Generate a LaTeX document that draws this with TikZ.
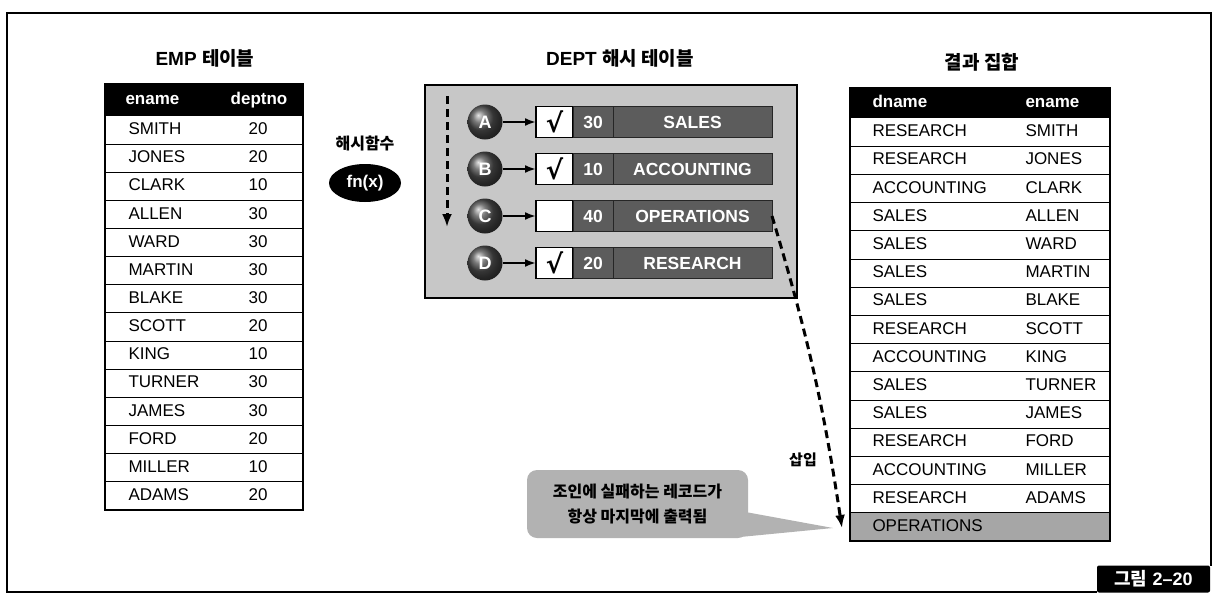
\documentclass[tikz,border=0pt]{standalone}
\usepackage{fontspec}
\setmainfont{Liberation Sans}
\newfontfamily\kr{Noto Sans CJK KR}
\newfontfamily\symfont{DejaVu Sans}
\usetikzlibrary{positioning,shapes.geometric,arrows.meta}
\tikzset{
  cell/.style={font=\fontsize{17}{20}\selectfont, inner sep=0pt, text height=12.5pt, text depth=3.5pt},
  head/.style={cell, font=\fontsize{17}{20}\selectfont\bfseries, text=white},
  title/.style={font=\fontsize{19}{22}\selectfont\bfseries, inner sep=0pt},
  ball/.style={circle, minimum size=35pt, inner sep=0pt, shading=ball, ball color=black!70,
    text=white, font=\fontsize{18}{20}\selectfont\bfseries},
  chkbox/.style={draw, line width=1.4pt, fill=white, minimum width=37pt, minimum height=31pt,
    inner sep=0pt, outer sep=0pt, font=\symfont\fontsize{26}{26}\selectfont\bfseries},
  numbox/.style={draw=black!85, line width=1pt, fill=black!64, minimum width=40pt, minimum height=31pt,
    inner sep=0pt, outer sep=0pt, text=white, font=\fontsize{17.5}{20}\selectfont\bfseries},
  namebox/.style={numbox, minimum width=159pt},
  dasharrow/.style={line width=3pt, dash pattern=on 8pt off 5pt, -{Latex[length=13pt,width=10pt]}},
  ptr/.style={line width=2.2pt, -{Latex[length=11pt,width=8pt]}}
}
\begin{document}
\begin{tikzpicture}[x=1pt, y=-1pt, line width=1pt]
\useasboundingbox (0,0) rectangle (1218,608);
% frame
\draw[line width=1.4pt] (1097,592) -- (7,592) -- (7,13) -- (1211,13) -- (1211,566);
\node[fill=black, rounded corners=2pt, minimum width=113pt, minimum height=27pt, inner sep=0pt,
  text=white, font=\fontsize{18}{20}\selectfont\bfseries](fig) at (1153.5,579) {{\kr 그림} 2–20};

% EMP table
\node[title](t1) at (205,58) {EMP {\kr 테이블}};
\fill[black] (105,84) rectangle (303,116);
\foreach \i in {1,...,13} \draw (105,116+28.14*\i) -- (303,116+28.14*\i);
\draw[line width=2.4pt] (105,84) rectangle (303,510);
\node[head, anchor=west](eh1) at (125,100) {ename};
\node[head](eh2) at (259,100) {deptno};
\node[cell, anchor=west](e1) at (128,130.1) {SMITH};
\node[cell, anchor=west](e2) at (128,158.2) {JONES};
\node[cell, anchor=west](e3) at (128,186.4) {CLARK};
\node[cell, anchor=west](e4) at (128,214.5) {ALLEN};
\node[cell, anchor=west](e5) at (128,242.6) {WARD};
\node[cell, anchor=west](e6) at (128,270.8) {MARTIN};
\node[cell, anchor=west](e7) at (128,298.9) {BLAKE};
\node[cell, anchor=west](e8) at (128,327.1) {SCOTT};
\node[cell, anchor=west](e9) at (128,355.2) {KING};
\node[cell, anchor=west](e10) at (128,383.3) {TURNER};
\node[cell, anchor=west](e11) at (128,411.5) {JAMES};
\node[cell, anchor=west](e12) at (128,439.6) {FORD};
\node[cell, anchor=west](e13) at (128,467.8) {MILLER};
\node[cell, anchor=west](e14) at (128,495.9) {ADAMS};
\node[cell](n1) at (258,130.1) {20};
\node[cell](n2) at (258,158.2) {20};
\node[cell](n3) at (258,186.4) {10};
\node[cell](n4) at (258,214.5) {30};
\node[cell](n5) at (258,242.6) {30};
\node[cell](n6) at (258,270.8) {30};
\node[cell](n7) at (258,298.9) {30};
\node[cell](n8) at (258,327.1) {20};
\node[cell](n9) at (258,355.2) {10};
\node[cell](n10) at (258,383.3) {30};
\node[cell](n11) at (258,411.5) {30};
\node[cell](n12) at (258,439.6) {20};
\node[cell](n13) at (258,467.8) {10};
\node[cell](n14) at (258,495.9) {20};

% hash function
\node[font=\kr\fontsize{16}{18}\selectfont\bfseries, inner sep=0pt](hf) at (365,143) {해시함수};
\node[ellipse, fill=black, minimum width=72pt, minimum height=38pt, inner sep=0pt, text=white,
  font=\fontsize{17}{20}\selectfont\bfseries](fn) at (365,183) {fn(x)};

% DEPT hash table
\node[title](t2) at (620,58) {DEPT {\kr 해시 테이블}};
\draw[line width=1.4pt, fill=black!22] (425,85) rectangle (797,298);
\coordinate (s1) at (447,96);
\coordinate (s2) at (447,227);
\draw[dasharrow] (s1) -- (s2);
\node[ball](A) at (485,122) {A};
\node[ball](B) at (485,169) {B};
\node[ball](C) at (485,216) {C};
\node[ball](D) at (485,263) {D};
\node[chkbox, anchor=west](c1) at (536,122) {√};
\node[chkbox, anchor=west](c2) at (536,169) {√};
\node[chkbox, anchor=west](c3) at (536,216) {};
\node[chkbox, anchor=west](c4) at (536,263) {√};
\node[numbox, right=0pt of c1](k1) {30};
\node[numbox, right=0pt of c2](k2) {10};
\node[numbox, right=0pt of c3](k3) {40};
\node[numbox, right=0pt of c4](k4) {20};
\node[namebox, right=0pt of k1](d1) {SALES};
\node[namebox, right=0pt of k2](d2) {ACCOUNTING};
\node[namebox, right=0pt of k3](d3) {OPERATIONS};
\node[namebox, right=0pt of k4](d4) {RESEARCH};
\draw[ptr] (A) -- (c1);
\draw[ptr] (B) -- (c2);
\draw[ptr] (C) -- (c3);
\draw[ptr] (D) -- (c4);

% result set
\node[title](t3) at (982,62) {\kr 결과 집합};
\fill[black] (850,88) rectangle (1110,118);
\fill[black!35] (850,512.8) rectangle (1110,541);
\foreach \i in {1,...,14} \draw (850,118+28.2*\i) -- (1110,118+28.2*\i);
\draw[line width=2.4pt] (850,88) rectangle (1110,541);
\node[head, anchor=west](rh1) at (872,103) {dname};
\node[head, anchor=west](rh2) at (1025,103) {ename};
\node[cell, anchor=west](r1) at (872,132.1) {RESEARCH};
\node[cell, anchor=west](r2) at (872,160.3) {RESEARCH};
\node[cell, anchor=west](r3) at (872,188.5) {ACCOUNTING};
\node[cell, anchor=west](r4) at (872,216.7) {SALES};
\node[cell, anchor=west](r5) at (872,244.9) {SALES};
\node[cell, anchor=west](r6) at (872,273.1) {SALES};
\node[cell, anchor=west](r7) at (872,301.3) {SALES};
\node[cell, anchor=west](r8) at (872,329.5) {RESEARCH};
\node[cell, anchor=west](r9) at (872,357.7) {ACCOUNTING};
\node[cell, anchor=west](r10) at (872,385.9) {SALES};
\node[cell, anchor=west](r11) at (872,414.1) {SALES};
\node[cell, anchor=west](r12) at (872,442.3) {RESEARCH};
\node[cell, anchor=west](r13) at (872,470.5) {ACCOUNTING};
\node[cell, anchor=west](r14) at (872,498.7) {RESEARCH};
\node[cell, anchor=west](r15) at (872,526.9) {OPERATIONS};
\node[cell, anchor=west](m1) at (1025,132.1) {SMITH};
\node[cell, anchor=west](m2) at (1025,160.3) {JONES};
\node[cell, anchor=west](m3) at (1025,188.5) {CLARK};
\node[cell, anchor=west](m4) at (1025,216.7) {ALLEN};
\node[cell, anchor=west](m5) at (1025,244.9) {WARD};
\node[cell, anchor=west](m6) at (1025,273.1) {MARTIN};
\node[cell, anchor=west](m7) at (1025,301.3) {BLAKE};
\node[cell, anchor=west](m8) at (1025,329.5) {SCOTT};
\node[cell, anchor=west](m9) at (1025,357.7) {KING};
\node[cell, anchor=west](m10) at (1025,385.9) {TURNER};
\node[cell, anchor=west](m11) at (1025,414.1) {JAMES};
\node[cell, anchor=west](m12) at (1025,442.3) {FORD};
\node[cell, anchor=west](m13) at (1025,470.5) {MILLER};
\node[cell, anchor=west](m14) at (1025,498.7) {ADAMS};

% insert arrow
\coordinate (ins) at (842,528);
\draw[dasharrow] (d3.east) to[bend left=4] (ins);
\node[font=\kr\fontsize{15}{17}\selectfont\bfseries, inner sep=0pt](lab) at (803,460) {삽입};

% note
\fill[black!30] (740,511) -- (833,528) -- (740,537) -- cycle;
\node[rounded corners=10pt, fill=black!30, minimum width=221pt, minimum height=68pt, align=center,
  font=\kr\fontsize{16}{25}\selectfont\bfseries](note) at (637.5,504) {조인에 실패하는 레코드가\\항상 마지막에 출력됨};
\end{tikzpicture}
\end{document}
